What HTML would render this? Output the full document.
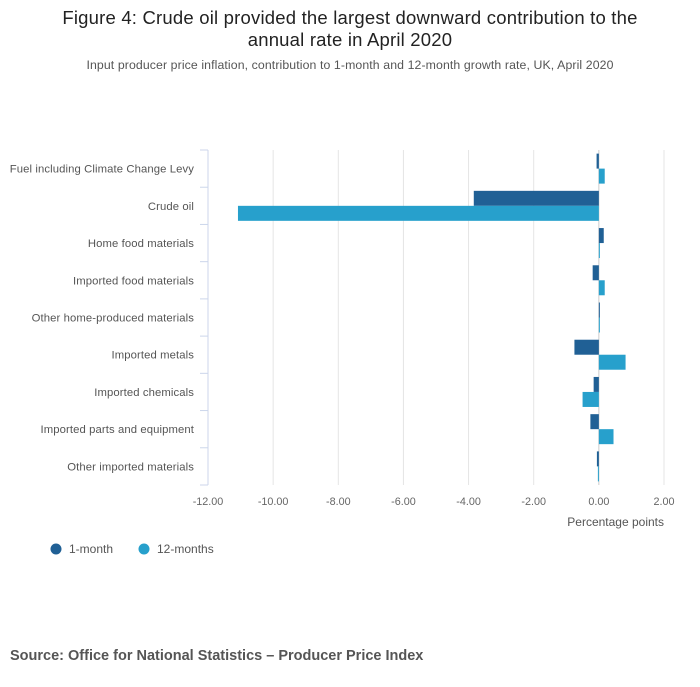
<!DOCTYPE html>
<html><head><meta charset="utf-8"><style>
body{margin:0;background:#fff;font-family:"Liberation Sans",sans-serif;}
svg text{font-family:"Liberation Sans",sans-serif;}
</style></head><body>
<svg width="700" height="682">
<text x="350" y="24" text-anchor="middle" font-size="18.5" letter-spacing="0.2" fill="#222">Figure 4: Crude oil provided the largest downward contribution to the</text>
<text x="350" y="46" text-anchor="middle" font-size="18.5" letter-spacing="0.2" fill="#222">annual rate in April 2020</text>
<text x="350" y="69" text-anchor="middle" font-size="12.3" letter-spacing="0.1" fill="#555">Input producer price inflation, contribution to 1-month and 12-month growth rate, UK, April 2020</text>
<g id="plot"></g>
<text x="664" y="526" text-anchor="end" font-size="12" fill="#555">Percentage points</text>
<g><circle cx="56" cy="549" r="5.5" fill="#206095"/><text x="69" y="553" font-size="12" fill="#555">1-month</text></g>
<g><circle cx="144" cy="549" r="5.5" fill="#27a0cc"/><text x="157" y="553" font-size="12" fill="#555">12-months</text></g>
<text x="10" y="660" font-size="14.5" font-weight="bold" fill="#555">Source: Office for National Statistics – Producer Price Index</text>
</svg>
<script>
const categories=["Fuel including Climate Change Levy","Crude oil","Home food materials","Imported food materials","Other home-produced materials","Imported metals","Imported chemicals","Imported parts and equipment","Other imported materials"];
const oneMonth=[-0.07,-3.84,0.15,-0.19,0.0,-0.75,-0.16,-0.26,-0.06];
const twelveMonths=[0.18,-11.08,0.02,0.18,0.01,0.82,-0.5,0.45,-0.03];
const ticks=[-12,-10,-8,-6,-4,-2,0,2];
const tickLabels=["-12.00","-10.00","-8.00","-6.00","-4.00","-2.00","0.00","2.00"];
const NS="http://www.w3.org/2000/svg";
const g=document.getElementById('plot');
const x0=208,x1=664,yTop=150,yBot=485,vmin=-12,vmax=2;
const xs=v=>x0+(v-vmin)/(vmax-vmin)*(x1-x0);
const band=(yBot-yTop)/categories.length;
function mk(t,a){const e=document.createElementNS(NS,t);for(const k in a)e.setAttribute(k,a[k]);g.appendChild(e);return e;}
ticks.forEach((t,i)=>{
  const l=mk('line',{x1:xs(t),x2:xs(t),y1:yTop,y2:yBot,stroke:t===0?'#ccc':'#e5e5e5','stroke-width':1});
  
  
  const tx=mk('text',{x:xs(t),y:505,'text-anchor':'middle','font-size':10.8,fill:'#666'});
  tx.textContent=tickLabels[i];
  
  
});
const ax=mk('line',{x1:x0,x2:x0,y1:yTop,y2:yBot,stroke:'#ccd6eb'});


for(let i=0;i<=categories.length;i++){
  const y=yTop+i*band;
  const tk=mk('line',{x1:x0-8,x2:x0,y1:y,y2:y,stroke:'#ccd6eb'});
  
  
}
categories.forEach((c,i)=>{
  const yc=yTop+i*band+band/2;
  const tx=mk('text',{x:194,y:yc+4,'text-anchor':'end','font-size':11.3,'letter-spacing':0.1,fill:'#555'});
  tx.textContent=c;
  
  
  const bh=15;
  [[oneMonth[i],'#206095',yc-bh,'bar-1-month'],[twelveMonths[i],'#27a0cc',yc,'bar-12-months']].forEach(([v,col,y,n])=>{
    const a=xs(Math.min(v,0)),b=xs(Math.max(v,0));
    const r=mk('rect',{x:a,y:y,width:Math.max(b-a,1),height:bh,fill:col});
    
    
  });
});
</script>
</body></html>
